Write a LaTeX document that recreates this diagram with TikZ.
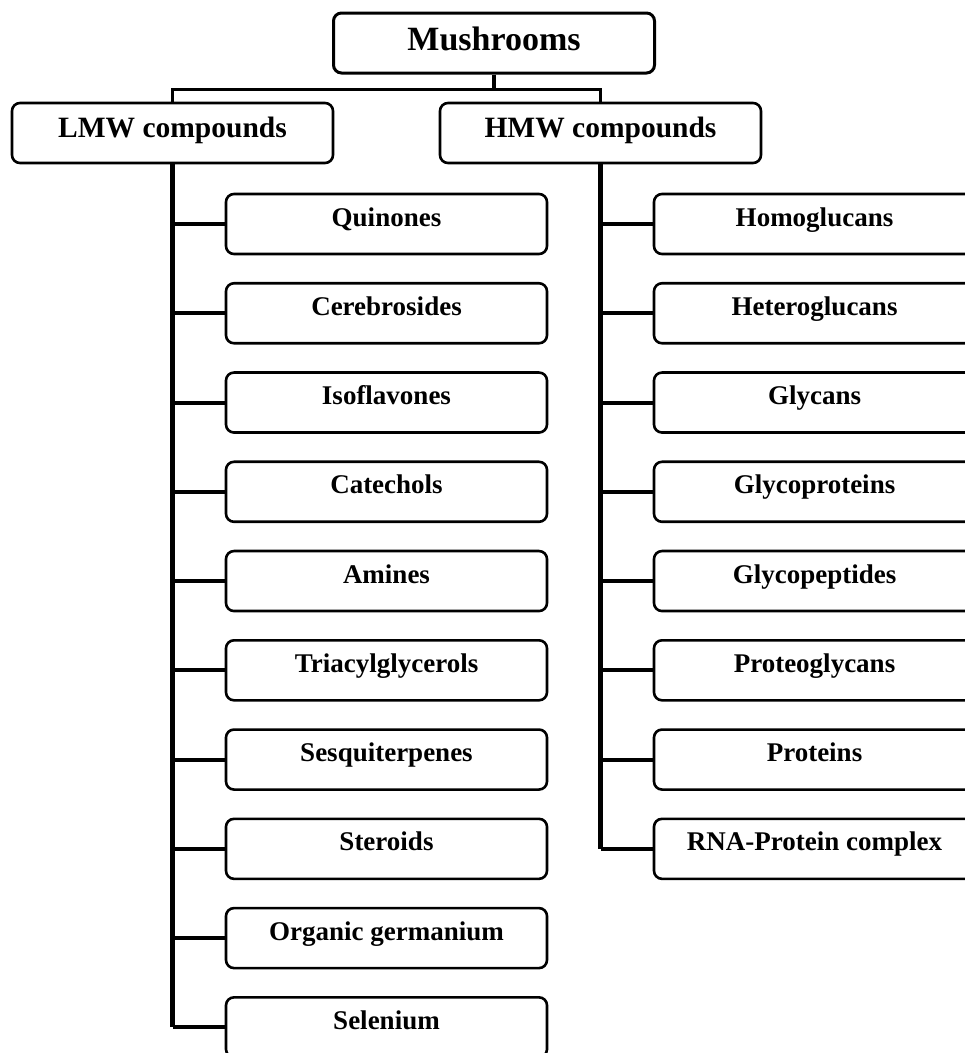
\documentclass[tikz,border=0pt]{standalone}
\usepackage{fontspec}
\setmainfont{Liberation Serif}
\begin{document}
\begin{tikzpicture}[x=1pt,y=-1pt,
  box/.style={draw=black, line width=2.6pt, rounded corners=8pt,
    minimum width=321pt, minimum height=60pt, inner sep=0pt,
    font=\bfseries\fontsize{27}{30}\selectfont, text height=4pt, text depth=0pt},
  headbox/.style={box, font=\bfseries\fontsize{29.5}{32}\selectfont, text height=8pt},
  topbox/.style={box, line width=3pt, font=\bfseries\fontsize{34}{38}\selectfont, text height=14pt},
  conn/.style={line width=3.5pt},
  trunk/.style={line width=4.5pt},
  branch/.style={line width=4pt}]
\useasboundingbox (0,0) rectangle (965,1053);
\clip (0,0) rectangle (965,1053);
\fill[white] (0,0) rectangle (965,1053);

\node[topbox] (mush) at (494,43) {Mushrooms};
\node[headbox] (lmw) at (172.5,133) {LMW compounds};
\node[headbox] (hmw) at (600.5,133) {HMW compounds};

\draw[conn] (mush.south) -- ++(0,15) -| (lmw.north);
\draw[conn] (mush.south) -- ++(0,15) -| (hmw.north);

\foreach \t [count=\i from 0] in {Quinones, Cerebrosides, Isoflavones, Catechols, Amines, Triacylglycerols, Sesquiterpenes, Steroids, Organic germanium, Selenium}{
  \node[box] (l\i) at (386.5,{224+89.26*\i}) {\t};
  \draw[branch] (lmw.south |- l\i.west) -- (l\i.west);
}
\foreach \t [count=\i from 0] in {Homoglucans, Heteroglucans, Glycans, Glycoproteins, Glycopeptides, Proteoglycans, Proteins, RNA-Protein complex}{
  \node[box] (r\i) at (814.5,{224+89.26*\i}) {\t};
  \draw[branch] (hmw.south |- r\i.west) -- (r\i.west);
}
\draw[trunk] (lmw.south) -- (lmw.south |- l9.west);
\draw[trunk] (hmw.south) -- (hmw.south |- r7.west);
\end{tikzpicture}
\end{document}
